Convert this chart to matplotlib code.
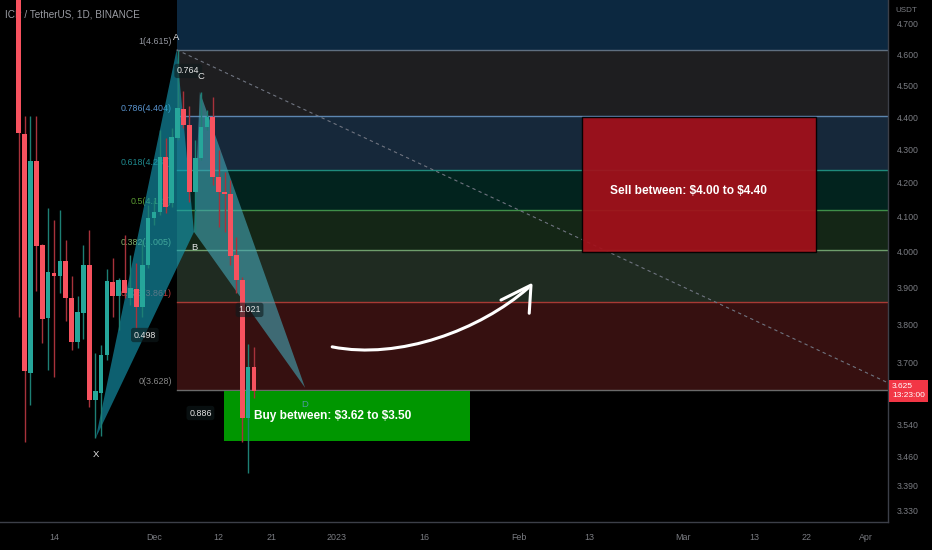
import numpy as np
import matplotlib
matplotlib.use("Agg")
import matplotlib.pyplot as plt
from matplotlib.path import Path
from matplotlib.patches import PathPatch, Polygon, Rectangle
from matplotlib.ticker import NullLocator

FONT = ["Liberation Sans Narrow", "Liberation Sans", "DejaVu Sans"]
plt.rcParams["font.family"] = FONT

# daily candles from 2022-11-08 (index 0)
start = np.datetime64("2022-11-08")
opens = [5.300, 4.348, 3.671, 4.266, 4.019, 3.817, 3.941, 3.932, 3.974, 3.871,
         3.753, 3.831, 3.963, 3.602, 3.620, 3.719, 3.916, 3.877, 3.921, 3.871,
         3.896, 3.847, 3.963, 4.097, 4.114, 4.278, 4.141, 4.336, 4.426, 4.376,
         4.173, 4.275, 4.370, 4.401, 4.218, 4.173, 4.167, 3.991, 3.921, 3.556,
         3.687]
highs = [5.400, 4.404, 4.404, 4.404, 4.022, 4.126, 4.091, 4.120, 4.034, 3.932,
         3.877, 4.019, 4.062, 3.724, 3.745, 3.952, 3.983, 3.927, 4.048, 3.991,
         3.969, 4.034, 4.135, 4.150, 4.361, 4.336, 4.367, 4.614, 4.482, 4.435,
         4.330, 4.479, 4.422, 4.463, 4.299, 4.233, 4.209, 4.042, 3.930, 3.748,
         3.740]
lows = [3.820, 3.496, 3.589, 3.891, 3.750, 3.679, 3.661, 3.886, 3.809, 3.732,
        3.737, 3.761, 3.584, 3.506, 3.511, 3.705, 3.820, 3.785, 3.871, 3.852,
        3.790, 3.820, 3.955, 4.077, 4.105, 4.111, 4.129, 4.330, 4.367, 4.144,
        4.057, 4.269, 4.361, 4.194, 4.071, 4.057, 3.963, 3.886, 3.496, 3.421,
        3.607]
closes = [4.351, 3.677, 4.266, 4.017, 3.814, 3.943, 3.932, 3.974, 3.871, 3.753,
          3.833, 3.963, 3.602, 3.625, 3.719, 3.918, 3.877, 3.921, 3.886, 3.899,
          3.847, 3.963, 4.097, 4.114, 4.278, 4.129, 4.339, 4.429, 4.376, 4.173,
          4.275, 4.370, 4.401, 4.218, 4.173, 4.167, 3.988, 3.921, 3.556, 3.687,
          3.625]

# fib retracement (from 0 to 1)
fib_low, fib_high = 3.628, 4.615
fib_ratios = [1, 0.786, 0.618, 0.5, 0.382, 0.236, 0]
fib_line_colors = ["#5f6f80", "#5d86b0", "#1f8a7c", "#3f8f4a", "#6e9e6c", "#a83a34", "#6a6a6a"]
fib_text_colors = ["#9598a1", "#5a95d0", "#1f8a8f", "#5a9a32", "#84b06c", "#c0393b", "#8a8a8a"]
fib_band_colors = ["#0c2840", "#1e1e20", "#16283a", "#02231e", "#142616", "#1f2b21", "#361010"]
fib_top_ratio = 1.618

# XABCD pattern
pattern_names = ["X", "A", "B", "C", "D"]
pattern_x = [13.1, 26.85, 29.8, 30.8, 48.7]
pattern_y = [3.506, 4.615, 4.057, 4.479, 3.633]
ratio_pairs = [(0, 2), (1, 3), (2, 4), (0, 4)]
ratio_texts = ["0.498", "0.764", "1.021", "0.886"]

# trend line from A
trend_x = [26.85, 147.8]
trend_y = [4.615, 3.646]

# zones
buy_zone = dict(x0=34.9, x1=76.7, lo=3.50, hi=3.625, text="Buy between: $3.62 to $3.50",
                tx=53.4, ty=3.561)
sell_zone = dict(x0=95.8, x1=135.6, lo=4.00, hi=4.40, text="Sell between: $4.00 to $4.40",
                 tx=113.9, ty=4.176)

# hand drawn arrow (bezier start, ctrl1, ctrl2, end) and head
arrow_x = [53.3, 64.8, 78.4, 86.6]
arrow_y = [3.740, 3.705, 3.785, 3.899]
head_x = [82.0, 87.1, 86.8]
head_y = [3.866, 3.907, 3.830]

# axes
price_ticks = [4.7, 4.6, 4.5, 4.4, 4.3, 4.2, 4.1, 4.0, 3.9, 3.8, 3.7, 3.54, 3.46, 3.39, 3.33]
price_labels = ["4.700", "4.600", "4.500", "4.400", "4.300", "4.200", "4.100", "4.000",
                "3.900", "3.800", "3.700", "3.540", "3.460", "3.390", "3.330"]
date_ticks = ["2022-11-14", "2022-12-01", "2022-12-12", "2022-12-21", "2023-01-01",
              "2023-01-16", "2023-02-01", "2023-02-13", "2023-03-01", "2023-03-13",
              "2023-03-22", "2023-04-01"]
date_labels = ["14", "Dec", "12", "21", "2023", "16", "Feb", "13", "Mar", "13", "22", "Apr"]
last_price = 3.625
countdown = "13:23:00"

UP, DOWN = "#26a69a", "#f7525f"
UP_W, DOWN_W = "#1d7f74", "#a8323b"

fig = plt.figure(figsize=(9.32, 5.5), dpi=100, facecolor="black")
ax = fig.add_axes([0, 28 / 550, 888 / 932, 522 / 550])
ax.set_facecolor("black")
ax.set_yscale("log")
ax.set_xlim(-3.18, 147.8)
ax.set_ylim(3.304, 4.7805)

# fib bands + lines + labels
levels = [fib_low + r * (fib_high - fib_low) for r in fib_ratios]
top = fib_low + fib_top_ratio * (fib_high - fib_low)
fx0, fx1 = pattern_x[1], 200
bounds = [top] + levels
for i, c in enumerate(fib_band_colors):
    ax.fill_between([fx0, fx1], bounds[i + 1], bounds[i], color=c, lw=0, zorder=0.5)
for r, v, lc, tc in zip(fib_ratios, levels, fib_line_colors, fib_text_colors):
    ax.plot([fx0, fx1], [v, v], color=lc, lw=1, zorder=1)
    ax.annotate(f"{r}({v:.3f})", (fx0, v), xytext=(-3.5, 2.5), textcoords="offset points",
                ha="right", va="bottom", color=tc, fontsize=6.4, zorder=1.5)

# pattern triangles
tri_xab = [(pattern_x[i], pattern_y[i]) for i in (0, 1, 2)]
tri_bcd = [(pattern_x[i], pattern_y[i]) for i in (2, 3, 4)]
ax.add_patch(Polygon(tri_xab, closed=True, fc="#16a2bc", alpha=0.6, lw=0, zorder=2))
ax.add_patch(Polygon(tri_bcd, closed=True, fc="#44a8b8", alpha=0.6, lw=0, zorder=2))

# trend line
ax.plot(trend_x, trend_y, color="#6f7480", lw=0.8, ls=(0, (3, 3)), zorder=2.5)

# zones
ax.add_patch(Rectangle((buy_zone["x0"], buy_zone["lo"]), buy_zone["x1"] - buy_zone["x0"],
                       buy_zone["hi"] - buy_zone["lo"], fc="#009600", lw=0, zorder=2.8))
ax.add_patch(Rectangle((sell_zone["x0"], sell_zone["lo"]), sell_zone["x1"] - sell_zone["x0"],
                       sell_zone["hi"] - sell_zone["lo"], fc="#a3101a", ec="black",
                       lw=1, alpha=0.93, zorder=2.8))
for z in (buy_zone, sell_zone):
    ax.text(z["tx"], z["ty"], z["text"], color="white", fontsize=8.6, fontweight="bold",
            ha="center", va="center", zorder=5, parse_math=False)

# candles
xs = np.arange(len(opens))
for x, o, h, l, c in zip(xs, opens, highs, lows, closes):
    up = c >= o
    ax.vlines(x, l, h, color=UP_W if up else DOWN_W, lw=1, zorder=3)
    ax.bar(x, abs(c - o), bottom=min(o, c), width=0.8, color=UP if up else DOWN,
           lw=0, zorder=3.1)

# ratio labels, then point labels
for (a, b), t in zip(ratio_pairs, ratio_texts):
    mx = (pattern_x[a] + pattern_x[b]) / 2
    my = np.sqrt(pattern_y[a] * pattern_y[b])
    ax.text(mx, my, t, color="#e6e6e6", fontsize=6.4, ha="center", va="center", zorder=4,
            bbox=dict(boxstyle="round,pad=0.3", fc="#0e1a1c", ec="none", alpha=0.6))
offsets = [-12, 9, -11, 11, -12]
for name, x, y, off in zip(pattern_names, pattern_x, pattern_y, offsets):
    ax.annotate(name, (x, y), xytext=(0.5 if name == "C" else 0, off),
                textcoords="offset points", ha="center", va="center",
                color="#4f9aa0" if name == "D" else "#e6e6e6", fontsize=6.8, zorder=4.5)

# hand drawn arrow
verts = list(zip(arrow_x, arrow_y))
ax.add_patch(PathPatch(Path(verts, [Path.MOVETO, Path.CURVE4, Path.CURVE4, Path.CURVE4]),
                       fc="none", ec="white", lw=2.2, capstyle="round", zorder=5))
ax.plot(head_x, head_y, color="white", lw=2.2, solid_capstyle="round",
        solid_joinstyle="round", zorder=5)

# title
ax.text(0.006, 0.972, "ICP / TetherUS, 1D, BINANCE", transform=ax.transAxes,
        color="#9a9ca3", fontsize=7.2, ha="left", va="center", zorder=2.9)

# axes styling
ax.yaxis.tick_right()
ax.set_yticks(price_ticks)
ax.set_yticklabels(price_labels)
ax.yaxis.set_minor_locator(NullLocator())
day_pos = [(np.datetime64(d) - start).astype(int) for d in date_ticks]
ax.set_xticks(day_pos)
ax.set_xticklabels(date_labels)
ax.tick_params(axis="y", length=0, pad=6.5, labelcolor="#7a7c82", labelsize=6.3)
ax.tick_params(axis="x", length=0, pad=8, labelcolor="#7a7c82", labelsize=6.4)
for s in ("top", "left"):
    ax.spines[s].set_visible(False)
for s in ("right", "bottom"):
    ax.spines[s].set_color("#3c3f48")
    ax.spines[s].set_linewidth(1)

fig.text(906 / 932, 1 - 11 / 550, "USDT", color="#7a7c82", fontsize=5.8,
         ha="center", va="center")
ax.annotate(f"{last_price:.3f}\n{countdown}", (1, last_price), xycoords=("axes fraction", "data"),
            xytext=(3, 5.5), textcoords="offset points", ha="left", va="top", color="white",
            fontsize=6.0, linespacing=1.25, annotation_clip=False, zorder=6,
            bbox=dict(boxstyle="square,pad=0.35", fc="#f23645", ec="none"))

fig.savefig("out.png", dpi=100, facecolor="black")
